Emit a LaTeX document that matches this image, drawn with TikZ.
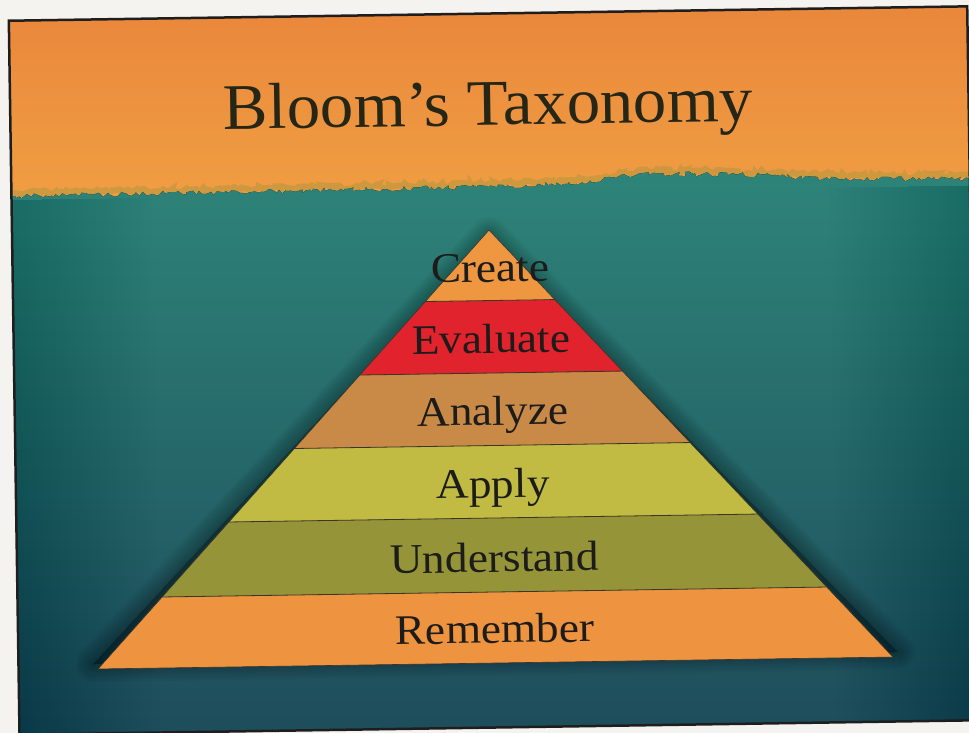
\documentclass[tikz,border=0pt]{standalone}
\usepackage{fontspec}
\setmainfont{Liberation Serif}
\usetikzlibrary{decorations.pathmorphing}
\definecolor{paper}{HTML}{F4F3EF}
\definecolor{orangetop}{HTML}{E9873B}
\definecolor{orangebot}{HTML}{F3A646}
\definecolor{tealtop}{HTML}{2E8479}
\definecolor{tealmid}{HTML}{2A7675}
\definecolor{tealbot}{HTML}{1E4C5B}
\definecolor{fringe}{HTML}{AE963E}
\definecolor{framec}{HTML}{1E1E1E}
\definecolor{createc}{HTML}{EE9640}
\definecolor{evalc}{HTML}{E1232D}
\definecolor{analyzec}{HTML}{C98A48}
\definecolor{applyc}{HTML}{C1BA43}
\definecolor{understc}{HTML}{969438}
\definecolor{rememc}{HTML}{EE9340}
\definecolor{textc}{HTML}{1C1C1A}
\definecolor{bandline}{HTML}{3A3528}
\tikzset{
  lab/.style={font=\fontsize{42}{42}\selectfont, text=textc, anchor=base, inner sep=0pt},
  titletext/.style={font=\fontsize{65}{65}\selectfont, text=textc!90!olive, anchor=base, inner sep=0pt},
  sep/.style={draw=bandline, line width=0.8pt},
  rag/.style={decoration={random steps,segment length=3pt,amplitude=2.5pt}},
}
\begin{document}
\begin{tikzpicture}[x=1pt,y=1pt]
\useasboundingbox (0,0) rectangle (969,733);
\fill[paper] (0,0) rectangle (969,733);
\begin{scope}
\clip (0,0) rectangle (969,733);
\begin{scope}[shift={(495.5,70)}, rotate=0.86, every node/.style={transform shape}]
  % orange top band
  \fill[top color=orangetop, bottom color=orangebot] (-477,400) rectangle (481.5,649.5);
  % fringe
  \pgfmathsetseed{11}
  \draw[fringe, line width=6pt, opacity=0.5]
    (-477,477) decorate[rag]
    { -- (-200,478) -- (0,479) -- (100,482) -- (150,490) -- (250,488) -- (350,482) -- (481.5,480)};
  % teal region
  \pgfmathsetseed{5}
  \fill[top color=tealtop, middle color=tealmid, bottom color=tealbot]
    (-477,-64.5) -- (-477,474)
    decorate[rag]
    { -- (-200,475) -- (0,476) -- (100,479) -- (150,487) -- (250,485) -- (350,479) -- (481.5,477)}
    -- (481.5,-64.5) -- cycle;
  % side vignettes (soft, built from thin overlapping strips)
  \begin{scope}
    \clip (-477,-64.5) rectangle (481.5,470);
    \foreach \i in {1,...,20}
      \fill[black, opacity=0.008] (-477,-64.5) rectangle (-477+7*\i,470);
    \foreach \i in {1,...,20}
      \fill[black, opacity=0.008] (481.5-7*\i,-64.5) rectangle (481.5,470);
  \end{scope}
  % title
  \node[titletext] (title) at (1,538) {\scalebox{1.03}[1]{Bloom’s Taxonomy}};
  % pyramid shadow
  \foreach \w in {36,32,28,24,20,16,12,8,4}
    \filldraw[black, opacity=0.03, line width=\w pt, line join=round]
      (-402,5) -- (0,428) -- (402,5) -- cycle;
  % bands
  \fill[rememc]   (-397.5,0) -- (397.5,0) -- (332.3,71) -- (-332.3,71) -- cycle;
  \fill[understc] (-332.3,71) -- (332.3,71) -- (264.4,145) -- (-264.4,145) -- cycle;
  \fill[applyc]   (-264.4,145) -- (264.4,145) -- (197.8,217.5) -- (-197.8,217.5) -- cycle;
  \fill[analyzec] (-197.8,217.5) -- (197.8,217.5) -- (131.3,290) -- (-131.3,290) -- cycle;
  \fill[evalc]    (-131.3,290) -- (131.3,290) -- (64.7,362.5) -- (-64.7,362.5) -- cycle;
  \fill[createc]  (-64.7,362.5) -- (64.7,362.5) -- (0,433) -- cycle;
  % separators and outline
  \draw[sep] (-332.3,71) -- (332.3,71);
  \draw[sep] (-264.4,145) -- (264.4,145);
  \draw[sep] (-197.8,217.5) -- (197.8,217.5);
  \draw[sep] (-131.3,290) -- (131.3,290);
  \draw[sep] (-64.7,362.5) -- (64.7,362.5);
  \draw[draw=bandline, line width=0.6pt, line join=round] (-397.5,0) -- (0,433) -- (397.5,0) -- cycle;
  % labels
  \node[lab] (create) at (0.5,381)   {\scalebox{1.08}[1]{Create}};
  \node[lab] (evaluate) at (0.5,310) {\scalebox{1.08}[1]{Evaluate}};
  \node[lab] (analyze) at (1,238)    {\scalebox{1.08}[1]{Analyze}};
  \node[lab] (apply) at (0,165)      {\scalebox{1.08}[1]{Apply}};
  \node[lab] (understand) at (0.5,91) {\scalebox{1.08}[1]{Understand}};
  \node[lab] (remember) at (0,20)    {\scalebox{1.08}[1]{Remember}};
  % frame
  \draw[framec, line width=2.5pt] (-477,-64.5) rectangle (481.5,649.5);
\end{scope}
\end{scope}
\end{tikzpicture}
\end{document}
